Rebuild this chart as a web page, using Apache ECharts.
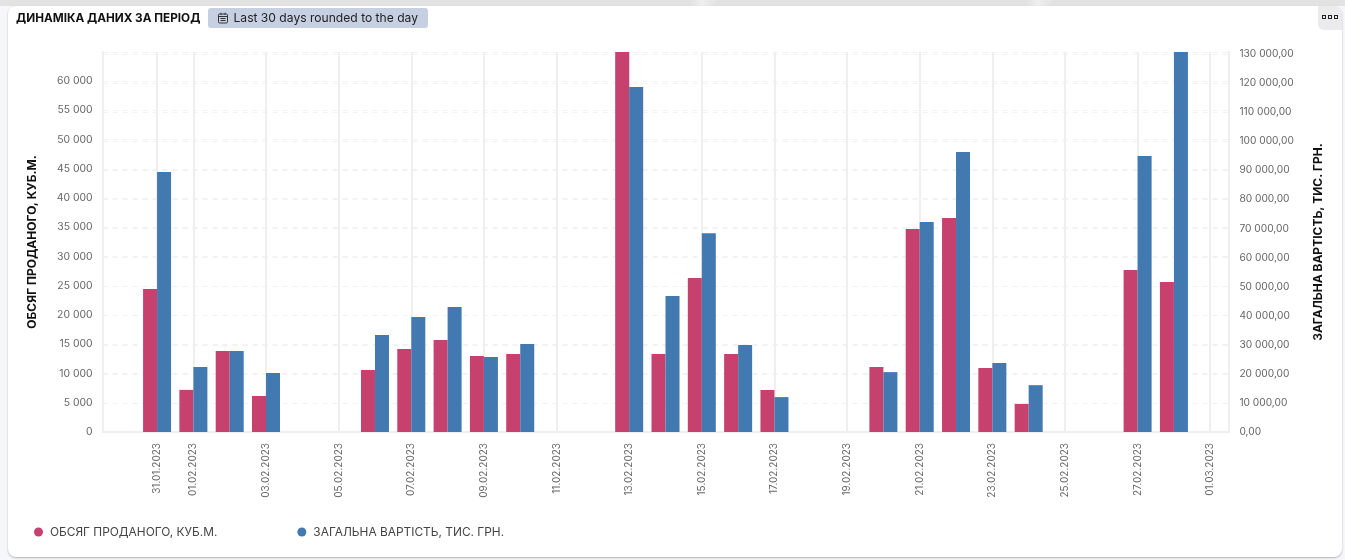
<!DOCTYPE html>
<html>
<head>
<meta charset="utf-8">
<script src="https://cdn.jsdelivr.net/npm/echarts@6/dist/echarts.min.js"></script>
<style>
html,body{margin:0;padding:0;width:1345px;height:560px;overflow:hidden;background:#f6f7fb;font-family:Inter,sans-serif}
#topstrip{position:absolute;left:0;top:0;width:1345px;height:6px;background:linear-gradient(90deg,#e2e2e2 0,#e2e2e2 690px,#efefef 702px,#e2e2e2 716px,#e2e2e2 1026px,#efefef 1038px,#e2e2e2 1052px,#e2e2e2 100%)}
#card{position:absolute;left:8px;top:6px;width:1334px;height:551px;background:#fff;border-radius:8px;box-shadow:0 1px 2px rgba(0,0,0,.28)}
#chart{position:absolute;left:0;top:0;width:1345px;height:560px}
#title{position:absolute;left:16px;top:11px;font:700 11.75px/15px Inter,sans-serif;color:#111;white-space:nowrap}
#pill{position:absolute;left:208px;top:8px;width:220px;height:20px;background:#c6d0e2;border-radius:3px;font:400 12.1px/20px Inter,sans-serif;color:#222;white-space:nowrap}
#pill svg{position:absolute;left:9px;top:4px}
#pill span{position:absolute;left:25.5px;top:0}
#menu{position:absolute;left:1318px;top:6px;width:24px;height:24px;background:#ebebed;border-radius:0 8px 0 6px}
#menu i{position:absolute;top:9px;border:1px solid #222;box-sizing:content-box;width:2px;height:2px}
</style>
</head>
<body>
<div id="topstrip"></div>
<div id="card"></div>
<div id="chart"></div>
<div id="title">ДИНАМІКА ДАНИХ ЗА ПЕРІОД</div>
<div id="pill">
<svg width="12" height="12" viewBox="0 0 12 12" fill="none" stroke="#333" stroke-width="1"><rect x="1.5" y="2" width="9" height="9" rx="1.2"/><path d="M1.5 4.5h9M4 .8v2M8 .8v2M3.5 6.5h5M3.5 8.5h5"/></svg>
<span>Last 30 days rounded to the day</span>
</div>
<div id="menu"><i style="left:4px"></i><i style="left:10px"></i><i style="left:16px"></i></div>
<script>
const categories = ['30.01.2023','31.01.2023','01.02.2023','02.02.2023','03.02.2023','04.02.2023','05.02.2023','06.02.2023','07.02.2023','08.02.2023','09.02.2023','10.02.2023','11.02.2023','12.02.2023','13.02.2023','14.02.2023','15.02.2023','16.02.2023','17.02.2023','18.02.2023','19.02.2023','20.02.2023','21.02.2023','22.02.2023','23.02.2023','24.02.2023','25.02.2023','26.02.2023','27.02.2023','28.02.2023','01.03.2023'];
const volume = [null,24450,7200,13850,6150,null,null,10600,14200,15730,13000,13340,null,null,66000,13340,26330,13340,7180,null,null,11100,34700,36600,10950,4800,null,null,27700,25650,null];
const cost = [null,89400,22350,27850,20300,null,null,33360,39550,43000,25800,30260,null,null,118650,46800,68400,29900,12000,null,null,20600,72200,96300,23700,16100,null,null,94900,135000,null];
const volumeName = 'ОБСЯГ ПРОДАНОГО, КУБ.М.';
const costName = 'ЗАГАЛЬНА ВАРТІСТЬ, ТИС. ГРН.';

const spaced = v => String(v).replace(/\B(?=(\d{3})+$)/g, ' ');
const showTick = i => i === 1 || (i >= 2 && i % 2 === 0);
const labelColor = '#666';
const edge = {show:true, lineStyle:{color:'#efefef', width:2}};
const dashed = {show:true, lineStyle:{color:'#f2f2f2', type:[5,5], width:1}};

const chart = echarts.init(document.getElementById('chart'), null, {renderer:'canvas'});
chart.setOption({
  backgroundColor:'transparent',
  animation:false,
  textStyle:{fontFamily:'Inter, sans-serif'},
  grid:{left:102.6, right:116.6, top:52, bottom:128, containLabel:false},
  legend:{
    left:29, top:521, icon:'circle', itemWidth:9, itemHeight:9, itemGap:80,
    data:[volumeName,costName],
    textStyle:{color:'#444', fontSize:11.9, fontFamily:'Inter, sans-serif', padding:[0,0,0,2]}
  },
  xAxis:{
    type:'category', data:categories, boundaryGap:true,
    axisLine:{show:true, lineStyle:{color:'#efefef', width:2}},
    axisTick:{show:false, alignWithLabel:true},
    axisLabel:{rotate:90, interval:(i)=>showTick(i), color:labelColor, fontSize:10, margin:11, hideOverlap:false},
    splitLine:{show:true, alignWithLabel:true, interval:(i)=>showTick(i), lineStyle:{color:'#efefef', width:2}}
  },
  yAxis:[
    {type:'value', min:0, max:64960, interval:5000, name:volumeName, nameLocation:'middle', nameGap:64,
     nameTextStyle:{color:'#111', fontWeight:'bold', fontSize:12, fontFamily:'Inter, sans-serif'},
     axisLine:edge, axisTick:{show:false},
     axisLabel:{color:labelColor, fontSize:10.4, margin:10, showMaxLabel:false, formatter:v=>spaced(v)},
     splitLine:dashed},
    {type:'value', min:0, max:130700, interval:10000, name:costName, nameLocation:'middle', nameGap:84, nameRotate:90,
     nameTextStyle:{color:'#111', fontWeight:'bold', fontSize:12, fontFamily:'Inter, sans-serif'},
     axisLine:edge, axisTick:{show:false},
     axisLabel:{color:labelColor, fontSize:10.2, margin:11, showMaxLabel:false, formatter:v=>spaced(v)+',00'},
     splitLine:dashed}
  ],
  series:[
    {name:volumeName, type:'bar', yAxisIndex:0, data:volume, barWidth:14, barGap:'0%', itemStyle:{color:'#c7416e'}, clip:true},
    {name:costName, type:'bar', yAxisIndex:1, data:cost, barWidth:14, barGap:'0%', itemStyle:{color:'#4279b0'}, clip:true}
  ]
});
</script>
</body>
</html>
